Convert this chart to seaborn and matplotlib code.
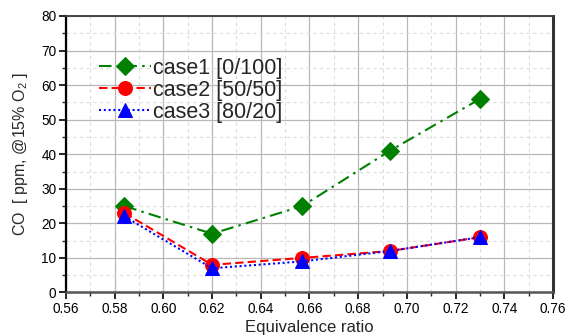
import matplotlib
matplotlib.use("Agg")
import matplotlib.pyplot as plt
import seaborn as sns
import pandas as pd
from matplotlib.ticker import MultipleLocator

phi = [0.584, 0.620, 0.657, 0.693, 0.730]
case1 = [25, 17, 25, 41, 56]
case2 = [23, 8, 10, 12, 16]
case3 = [22, 7, 9, 12, 16]
labels = ["case1 [0/100]", "case2 [50/50]", "case3 [80/20]"]

sns.set_theme(style="white")
plt.rcParams['font.family'] = ['Liberation Sans', 'DejaVu Sans']
plt.rcParams['mathtext.fontset'] = 'custom'
plt.rcParams['mathtext.rm'] = 'Liberation Sans'

rows = []
for lab, vals in zip(labels, [case1, case2, case3]):
    for x, y in zip(phi, vals):
        rows.append({"phi": x, "co": y, "case": lab})
df = pd.DataFrame(rows)

fig = plt.figure(figsize=(5.67, 3.36), dpi=100)
ax = fig.add_axes([0.1164, 0.1295, 0.8589, 0.8229])

styles = {
    labels[0]: dict(color="#008000", ls=(0, (6, 2.5, 1.2, 2.5)), marker="D", ms=9),
    labels[1]: dict(color="#ff0000", ls=(0, (4, 2)), marker="o", ms=10),
    labels[2]: dict(color="#0000ff", ls=(0, (1, 1.3)), marker="^", ms=10),
}
for lab in labels:
    st = styles[lab]
    sns.lineplot(data=df[df["case"] == lab], x="phi", y="co", ax=ax,
                 color=st["color"], linestyle=st["ls"], marker=st["marker"],
                 markersize=st["ms"], markeredgecolor=st["color"],
                 linewidth=1.5, label=lab)

ax.set_xlim(0.56, 0.76)
ax.set_ylim(0, 80)
ax.xaxis.set_major_locator(MultipleLocator(0.02))
ax.xaxis.set_minor_locator(MultipleLocator(0.01))
ax.yaxis.set_major_locator(MultipleLocator(10))
ax.yaxis.set_minor_locator(MultipleLocator(5))
ax.set_xticklabels([f"{v:.2f}" for v in ax.get_xticks()])

ax.grid(True, which="major", color="#b8b8b8", linewidth=0.9, linestyle="-")
ax.grid(True, which="minor", color="#dcdcdc", linewidth=0.8, linestyle=(0, (3, 3)))
ax.set_axisbelow(True)

ax.tick_params(axis="both", which="major", direction="out", length=5, width=1.2,
               labelsize=9.8, colors="black", bottom=True, left=True, pad=2)
ax.tick_params(axis="both", which="minor", direction="out", length=3, width=1.0,
               bottom=True, left=True)

ax.spines["left"].set_color("black")
ax.spines["left"].set_linewidth(1.6)
ax.spines["bottom"].set_color("#555555")
ax.spines["bottom"].set_linewidth(1.8)
ax.spines["top"].set_color("#444444")
ax.spines["top"].set_linewidth(1.4)
ax.spines["right"].set_color("#333333")
ax.spines["right"].set_linewidth(2.2)

ax.set_xlabel("Equivalence ratio", fontsize=12, labelpad=3)
ax.set_ylabel("CO  [ ppm, @15% O$_2$ ]", fontsize=11.5, labelpad=8)

leg = ax.legend(loc="upper left", bbox_to_anchor=(0.05, 0.88), frameon=False,
                fontsize=15.5, handlelength=2.4, handletextpad=0.12,
                labelspacing=0.05, borderaxespad=0)

fig.savefig("out.png", dpi=100)
